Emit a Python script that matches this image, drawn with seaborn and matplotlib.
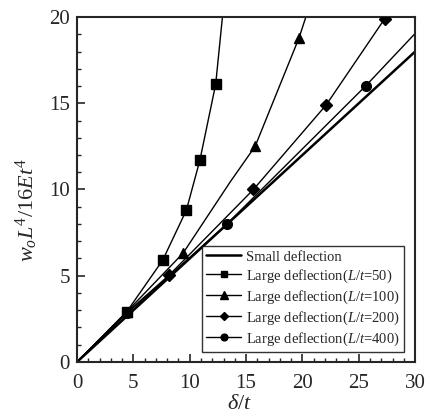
import matplotlib
matplotlib.use("Agg")
import matplotlib.pyplot as plt
import seaborn as sns
import pandas as pd
from matplotlib.lines import Line2D

# ---- data ----
small_x = [0, 30]
small_y = [0, 18]

l50_line_x = [0, 4.4, 7.6, 9.7, 10.9, 12.3, 12.9]
l50_line_y = [0, 2.9, 5.9, 8.8, 11.7, 16.1, 20.0]
l50_mark_x = [4.4, 7.6, 9.7, 10.9, 12.3]
l50_mark_y = [2.9, 5.9, 8.8, 11.7, 16.1]

l100_line_x = [0, 4.4, 9.4, 13.6, 15.8, 19.7, 20.3]
l100_line_y = [0, 2.9, 6.3, 10.45, 12.5, 18.8, 20.0]
l100_mark_x = [4.4, 9.4, 15.8, 19.7]
l100_mark_y = [2.9, 6.3, 12.5, 18.8]

l200_line_x = [0, 4.4, 8.2, 15.65, 22.1, 27.4]
l200_line_y = [0, 2.85, 5.05, 10.0, 14.9, 20.0]
l200_mark_x = [8.2, 15.65, 22.1, 27.3]
l200_mark_y = [5.05, 10.0, 14.9, 19.9]

l400_line_x = [0, 4.4, 8.2, 13.3, 25.6, 30]
l400_line_y = [0, 2.8, 5.0, 8.0, 16.0, 19.05]
l400_mark_x = [4.4, 13.3, 25.6]
l400_mark_y = [2.85, 8.0, 16.0]

labels = ["Small deflection",
          r"Large deflection($\mathit{L/t}$=50)",
          r"Large deflection($\mathit{L/t}$=100)",
          r"Large deflection($\mathit{L/t}$=200)",
          r"Large deflection($\mathit{L/t}$=400)"]

# ---- style ----
sns.set_style("ticks")
plt.rcParams["font.family"] = ["Liberation Serif", "DejaVu Serif"]
plt.rcParams["mathtext.fontset"] = "custom"
plt.rcParams["mathtext.rm"] = "Liberation Serif"
plt.rcParams["mathtext.it"] = "Liberation Serif:italic"
plt.rcParams["mathtext.bf"] = "Liberation Serif:bold"

fig = plt.figure(figsize=(4.28, 4.16), dpi=100)
ax = fig.add_axes([0.18, 0.13, 0.79, 0.829])

sns.lineplot(x=small_x, y=small_y, ax=ax, color="black", lw=1.8, sort=False)
series = [
    (l50_line_x, l50_line_y, l50_mark_x, l50_mark_y, "s", 6.5),
    (l100_line_x, l100_line_y, l100_mark_x, l100_mark_y, "^", 7.5),
    (l200_line_x, l200_line_y, l200_mark_x, l200_mark_y, "D", 6.0),
    (l400_line_x, l400_line_y, l400_mark_x, l400_mark_y, "o", 7.0),
]
for lx, ly, mx, my, m, ms in series:
    sns.lineplot(x=lx, y=ly, ax=ax, color="black", lw=1.0, sort=False)
    ax.plot(mx, my, linestyle="none", marker=m, color="black", ms=ms, zorder=5)

ax.set_xlim(0, 30)
ax.set_ylim(0, 20)
ax.set_xticks([0, 5, 10, 15, 20, 25, 30])
ax.set_yticks([0, 5, 10, 15, 20])
ax.set_xticks(range(0, 31), minor=True)
ax.set_yticks(range(0, 21), minor=True)
ax.tick_params(which="major", direction="in", length=6, width=1.2, labelsize=15)
ax.tick_params(axis="x", which="major", pad=9)
ax.tick_params(axis="y", which="major", pad=5)
ax.tick_params(which="minor", direction="in", length=3, width=1.0)
for s in ax.spines.values():
    s.set_linewidth(1.5)

ax.set_xlabel(r"$\delta/t$", fontsize=16)
ax.set_ylabel(r"$w_oL^4/\mathit{16}Et^4$", fontsize=16)
ax.xaxis.set_label_coords(0.48, -0.095)
ax.yaxis.set_label_coords(-0.11, 0.44)

handles = [Line2D([], [], color="black", lw=1.8)]
for _, _, _, _, m, ms in series:
    handles.append(Line2D([], [], color="black", lw=1.0, marker=m, ms=ms * 0.7))
leg = ax.legend(handles, labels, loc="lower right", bbox_to_anchor=(0.967, 0.029),
                fontsize=10.5, frameon=True, fancybox=False, edgecolor="black",
                handlelength=2.4, handletextpad=0.3, labelspacing=0.25,
                borderpad=0.3, borderaxespad=0)
leg.get_frame().set_linewidth(1.0)

fig.savefig("out.png", dpi=100)
